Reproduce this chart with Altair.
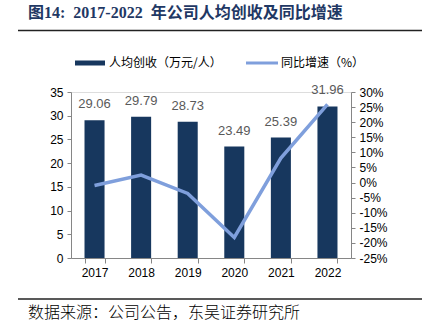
import altair as alt
import pandas as pd

years = ["2017", "2018", "2019", "2020", "2021", "2022"]
revenue_per_capita = [29.06, 29.79, 28.73, 23.49, 25.39, 31.96]
yoy_growth = [-1.0, 2.5, -3.6, -18.2, 8.1, 25.9]

title_text = "图14:\u00a0\u00a02017-2022\u00a0\u00a0年公司人均创收及同比增速"
legend_bar = "人均创收（万元/人）"
legend_line = "同比增速（%）"
source_text = "数据来源：公司公告，东吴证券研究所"

BAR_COLOR = "#17375E"
LINE_COLOR = "#7F9FDC"
AXIS_COLOR = "#868686"

df = pd.DataFrame({"year": years, "rev": revenue_per_capita, "yoy": yoy_growth})
one = pd.DataFrame({"a": [0]})

x_axis = alt.Axis(
    title=None, labelAngle=0, tickBand="extent", domainColor=AXIS_COLOR,
    tickColor=AXIS_COLOR, tickSize=5, labelPadding=4, labelFontSize=12,
    labelColor="#000000", labelFont="Liberation Sans",
)
x_scale = alt.Scale(paddingInner=0.57, paddingOuter=0.29)

left_axis = alt.Axis(
    title=None, values=[0, 5, 10, 15, 20, 25, 30, 35], grid=False, labelOverlap=False,
    domainColor=AXIS_COLOR, tickColor=AXIS_COLOR, tickSize=4,
    labelPadding=4, labelFontSize=12, labelColor="#000000",
    labelFont="Liberation Sans",
)
left_scale = alt.Scale(domain=[0, 35], nice=False)

bars = alt.Chart(df).mark_bar(color=BAR_COLOR).encode(
    x=alt.X("year:N", sort=years, scale=x_scale, axis=x_axis),
    y=alt.Y("rev:Q", scale=left_scale, axis=left_axis),
)

labels = alt.Chart(df).mark_text(
    dy=-12, baseline="alphabetic", fontSize=13, color="#595959", font="Liberation Sans"
).encode(
    x=alt.X("year:N", sort=years, scale=x_scale, axis=x_axis),
    y=alt.Y("rev:Q", scale=left_scale, axis=left_axis),
    text=alt.Text("rev:Q", format=".2f"),
)

line = alt.Chart(df).mark_line(color=LINE_COLOR, strokeWidth=3.5).encode(
    x=alt.X("year:N", sort=years, scale=x_scale, axis=x_axis),
    y=alt.Y(
        "yoy:Q",
        scale=alt.Scale(domain=[-25, 30], nice=False),
        axis=alt.Axis(
            title=None, orient="right", values=list(range(-25, 31, 5)), grid=False,
            labelOverlap=False,
            labelExpr="datum.value + '%'", domainColor=AXIS_COLOR,
            tickColor=AXIS_COLOR, tickSize=4, labelPadding=4, labelFontSize=12,
            labelColor="#000000", labelFont="Liberation Sans",
        ),
    ),
)

base = alt.layer(alt.layer(bars, labels), line).resolve_scale(y="independent")

title = alt.Chart(one).mark_text(
    align="left", baseline="middle", fontSize=16, fontWeight="bold",
    color="#1F3864", font="Liberation Serif, Noto Sans CJK SC",
).encode(x=alt.value(-43), y=alt.value(-79), text=alt.value(title_text))

top_rule = alt.Chart(one).mark_rule(color="#222222", strokeWidth=1.5).encode(
    x=alt.value(-53), x2=alt.value(351), y=alt.value(-61.5)
)

leg_bar = alt.Chart(one).mark_rule(color=BAR_COLOR, strokeWidth=5).encode(
    x=alt.value(4), x2=alt.value(34), y=alt.value(-29)
)
leg_bar_t = alt.Chart(one).mark_text(
    align="left", baseline="middle", fontSize=12, color="#000000",
    font="Noto Sans CJK SC",
).encode(x=alt.value(38), y=alt.value(-29), text=alt.value(legend_bar))
leg_line = alt.Chart(one).mark_rule(color=LINE_COLOR, strokeWidth=3).encode(
    x=alt.value(175), x2=alt.value(207), y=alt.value(-29)
)
leg_line_t = alt.Chart(one).mark_text(
    align="left", baseline="middle", fontSize=12, color="#000000",
    font="Noto Sans CJK SC",
).encode(x=alt.value(210), y=alt.value(-29), text=alt.value(legend_line))

bottom_rule = alt.Chart(one).mark_rule(color="#222222", strokeWidth=1.5).encode(
    x=alt.value(-53), x2=alt.value(351), y=alt.value(207)
)
source = alt.Chart(one).mark_text(
    align="left", baseline="middle", fontSize=16, color="#000000",
    font="Noto Sans CJK SC", fontWeight=300,
).encode(x=alt.value(-43), y=alt.value(221), text=alt.value(source_text))

chart = alt.layer(
    base, title, top_rule, leg_bar, leg_bar_t, leg_line, leg_line_t, bottom_rule, source
).properties(
    width=280,
    height=166,
    padding={"left": 71, "top": 92, "right": 71, "bottom": 72},
    autosize=alt.AutoSizeParams(type="none"),
).configure_view(stroke=None).configure(background="white")

chart.save("out.html", embed_options={"renderer": "svg", "actions": False})
